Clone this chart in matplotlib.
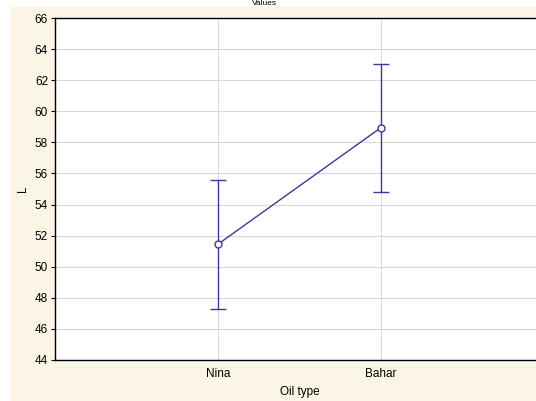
import matplotlib
matplotlib.use("Agg")
import matplotlib.pyplot as plt
from matplotlib.patches import Rectangle

categories = ["Nina", "Bahar"]
means = [51.45, 58.95]
upper = [55.55, 63.05]
lower = [47.25, 54.8]
yticks = list(range(44, 67, 2))

plt.rcParams['font.family'] = ['Liberation Sans', 'DejaVu Sans']

W, H = 536, 401
fig = plt.figure(figsize=(W / 100, H / 100), dpi=100)
fig.patch.set_facecolor("white")
fig.patches.append(Rectangle((10 / W, 0), 1, 1 - 7 / H, transform=fig.transFigure,
                             facecolor="#FBF5E6", edgecolor="none", zorder=-10))

ax = fig.add_axes([55 / W, 1 - 360 / H, (544 - 55) / W, (360 - 18) / H])
ax.set_facecolor("white")

x = [1, 2]
yerr = [[m - l for m, l in zip(means, lower)], [u - m for u, m in zip(upper, means)]]
color = "#3B3B98"
ax.errorbar(x, means, yerr=yerr, color=color, lw=1.0, capsize=6, capthick=1.0,
            marker="o", markersize=5, markerfacecolor="white", markeredgecolor=color,
            markeredgewidth=1.0, zorder=3)

ax.set_xlim(0, 3)
ax.set_ylim(44, 66)
ax.set_yticks(yticks)
ax.set_xticks(x)
ax.set_xticklabels(categories)
ax.tick_params(axis="y", labelsize=8.5, length=3, direction="out", pad=2)
ax.tick_params(axis="x", labelsize=8.5, length=0, pad=6)
ax.grid(True, color="#D8D8D8", lw=0.8)
ax.set_axisbelow(True)
for s in ["left", "bottom", "top"]:
    ax.spines[s].set_color("black")
    ax.spines[s].set_linewidth(1.0)
ax.spines["right"].set_visible(False)

ax.set_xlabel("Oil type", fontsize=8.5, labelpad=4)
ax.set_ylabel("L", fontsize=8.5, labelpad=4)

fig.text(264 / W, 1.0, "Values", ha="center", va="top", fontsize=6)

fig.savefig("out.png", dpi=100)
